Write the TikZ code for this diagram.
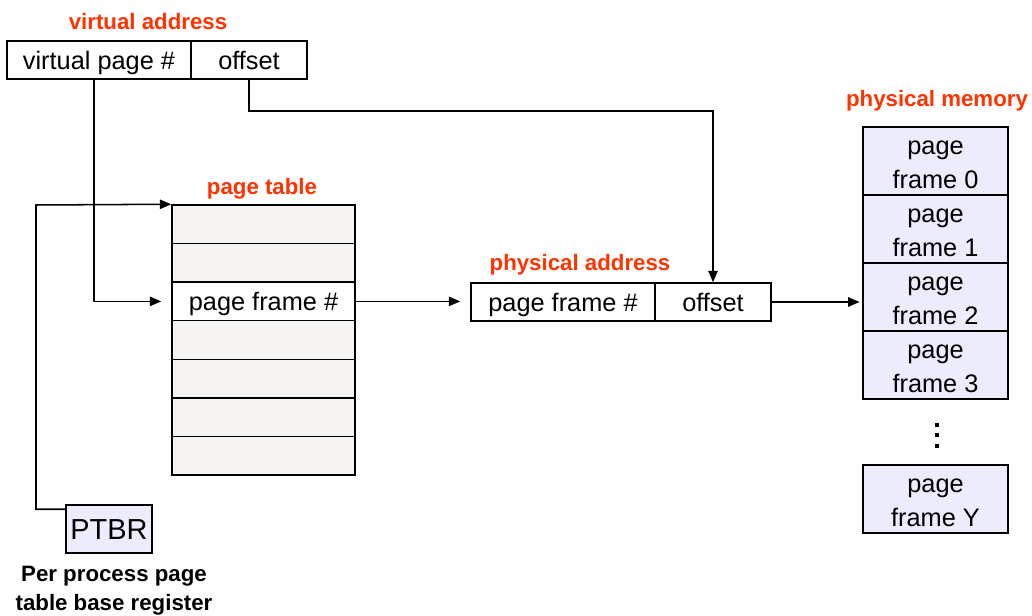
\documentclass[tikz,border=0pt]{standalone}
\usepackage{fontspec}
\setmainfont{Liberation Sans}
\usetikzlibrary{arrows.meta}
\definecolor{lbl}{RGB}{255,51,0}
\definecolor{lav}{RGB}{236,236,252}
\definecolor{ptgray}{RGB}{245,244,242}
\begin{document}
\begin{tikzpicture}[x=0.75pt,y=-0.75pt,
  line width=1.15pt,
  cell/.style={draw=black,line width=1.15pt,inner sep=0pt,minimum height=28.5pt,text height=17.6pt,text depth=3.6pt,font=\fontsize{19}{22}\selectfont},
  ptrow/.style={draw=black,line width=1.15pt,inner sep=0pt,minimum width=137.25pt,minimum height=28.93pt,text height=17.6pt,text depth=3.6pt,fill=ptgray,font=\fontsize{19}{22}\selectfont},
  pmrow/.style={draw=black,line width=1.15pt,inner sep=0pt,minimum width=108.75pt,minimum height=51pt,fill=lav},
  pmtxt/.style={align=center,inner sep=0pt,yshift=-2.5pt,font=\fontsize{19}{25.5}\selectfont},
  title/.style={text=lbl,font=\fontsize{16.7}{20}\selectfont\bfseries},
  arr/.style={-{Triangle[length=8.5pt,width=7pt]},line width=1.15pt}]
\useasboundingbox (0,0) rectangle (1032,616);
% virtual address
\node[title] (vatitle) at (148,22) {virtual address};
\node[cell,minimum width=138pt] (vpn) at (99,60) {virtual page \#};
\node[cell,minimum width=87pt] (voff) at (249,60) {offset};
% page table
\node[title] (pttitle) at (262,188.5) {page table};
\node[ptrow] (pt1) at (263.5,224.3) {};
\node[ptrow] (pt2) at (263.5,262.9) {};
\node[ptrow,fill=white] (pt3) at (263.5,301.4) {page frame \#};
\node[ptrow] (pt4) at (263.5,340) {};
\node[ptrow] (pt5) at (263.5,378.6) {};
\node[ptrow] (pt6) at (263.5,417.1) {};
\node[ptrow] (pt7) at (263.5,455.7) {};
% PTBR
\node[draw=black,line width=1.15pt,fill=lav,inner sep=0pt,minimum width=64.5pt,minimum height=36pt,text height=15.6pt,text depth=0pt,font=\fontsize{21.7}{24}\selectfont] (ptbr) at (109,529) {PTBR};
\node[align=center,font=\fontsize{16.7}{21.75}\selectfont\bfseries] (ptbrlbl) at (114,590.5) {Per process page\\table base register};
% physical address
\node[title] (patitle) at (580,265) {physical address};
\node[cell,minimum width=138pt] (pfn) at (563,302) {page frame \#};
\node[cell,minimum width=87pt] (paoff) at (713,302) {offset};
% physical memory
\node[title] (pmtitle) at (937,101) {physical memory};
\node[pmrow,label={[pmtxt]center:{page\\frame 0}}] (pm0) at (935.5,161) {};
\node[pmrow,label={[pmtxt]center:{page\\frame 1}}] (pm1) at (935.5,229) {};
\node[pmrow,label={[pmtxt]center:{page\\frame 2}}] (pm2) at (935.5,297) {};
\node[pmrow,label={[pmtxt]center:{page\\frame 3}}] (pm3) at (935.5,365) {};
\node[pmrow,label={[pmtxt]center:{page\\frame Y}}] (pmy) at (935.5,499) {};
\fill (935,423) rectangle (939,427);
\fill (935,433) rectangle (939,437);
\fill (935,444) rectangle (939,448);
% connectors
\draw[arr,shorten >=7.5pt] ([xshift=-3.75pt]vpn.south) |- (pt3.west);
\draw[arr] (voff.south) -- ++(0,31) -| (paoff.north);
\coordinate (bend) at (36,205);
\draw[arr] ([yshift=-3.75pt]ptbr.north west) -| (bend) -- (pt1.north west);
\draw[arr,shorten >=7.5pt] (pt3.east) -- (pt3.east -| pfn.west);
\draw[arr,shorten >=2pt] (paoff.east) -- (paoff.east -| pm2.west);
\end{tikzpicture}
\end{document}
